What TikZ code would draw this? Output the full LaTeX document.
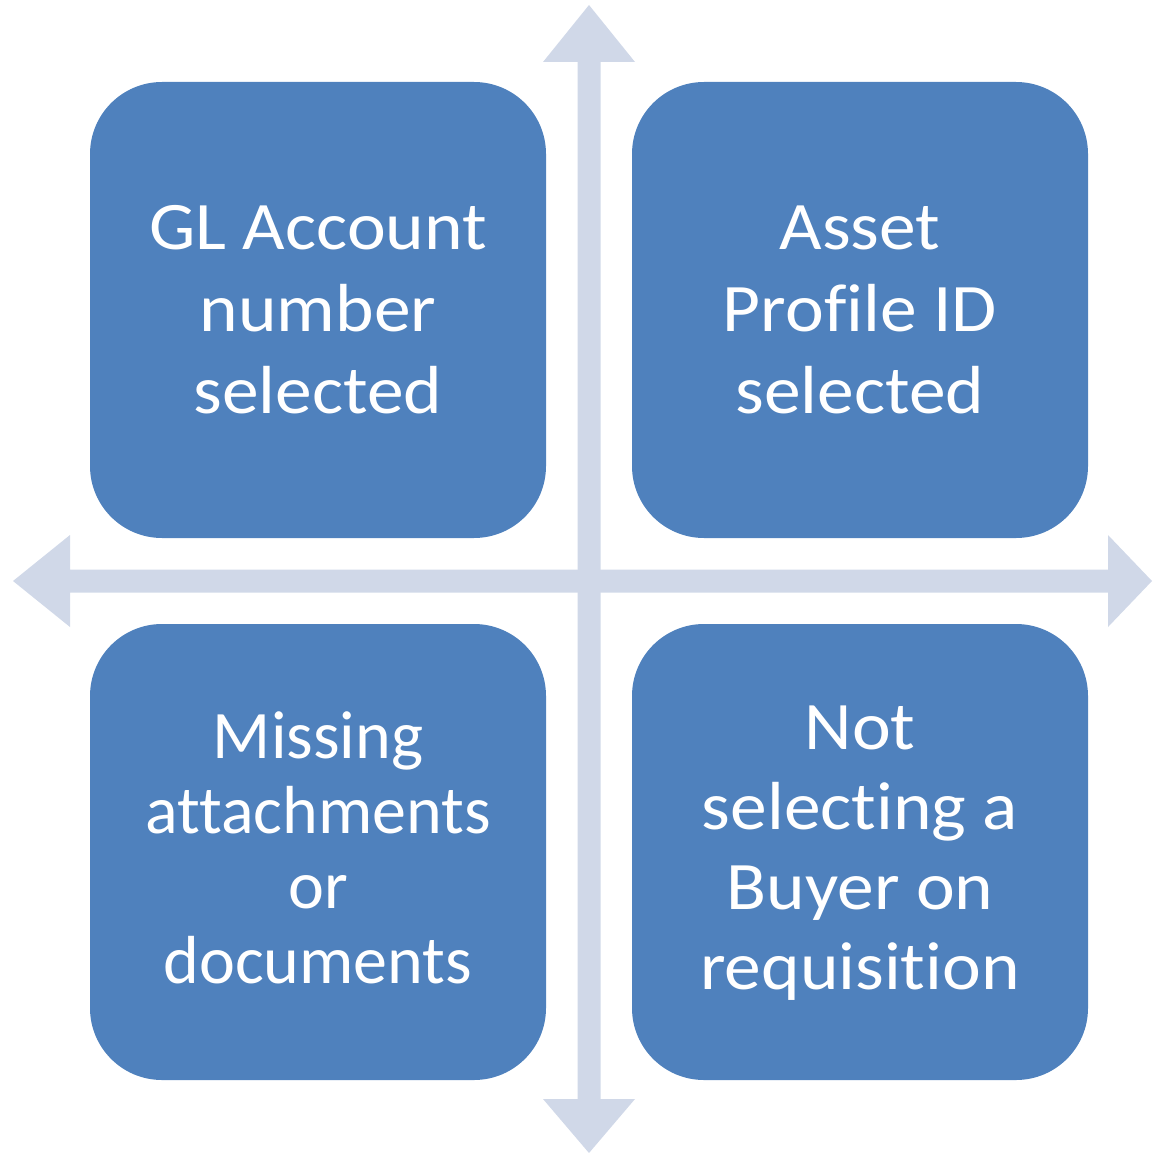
\documentclass[tikz,border=0pt]{standalone}
\usepackage{fontspec}
\setmainfont[Ligatures=NoCommon]{Carlito}
\newfontfamily\widefont[Ligatures=NoCommon,FakeStretch=1.08]{Carlito}
\definecolor{boxblue}{HTML}{4F81BD}
\definecolor{axis}{HTML}{D0D8E8}
\begin{document}
\begin{tikzpicture}[x=1pt,y=-1pt,
  quad/.style={draw=none,fill=boxblue,rounded corners=72pt,minimum width=456pt,minimum height=456pt,
    inner sep=0pt},
  quadtext/.style={inner sep=0pt,text=white,align=center,font=\widefont\fontsize{68}{82}\selectfont},
  axisfill/.style={fill=axis,draw=none}]
\useasboundingbox (0,0) rectangle (1152,1153);
% vertical double arrow
\fill[axisfill] (589,5) -- (635,62) -- (600.5,62) -- (600.5,1099) -- (635,1099) -- (589,1153)
  -- (543,1099) -- (577.5,1099) -- (577.5,62) -- (543,62) -- cycle;
% horizontal double arrow
\fill[axisfill] (13,581) -- (70,535) -- (70,569.5) -- (1108,569.5) -- (1108,535) -- (1152,581)
  -- (1108,627) -- (1108,592.5) -- (70,592.5) -- (70,627) -- cycle;
\node[quad] (gl) at (318,310) {};
\node[quad] (asset) at (860,310) {};
\node[quad] (missing) at (318,852) {};
\node[quad] (buyer) at (860,852) {};
\node[quadtext] (gltext) at (gl.center) {GL Account\\number\\selected};
\node[quadtext] (assettext) at (asset.center) {Asset\\Profile ID\\selected};
\node[quadtext,font=\rmfamily\fontsize{68}{75}\selectfont] (missingtext) at ([yshift=4pt]missing.center) {Missing\\attachments\\or\\documents};
\node[quadtext,font=\widefont\fontsize{68}{80}\selectfont] (buyertext) at ([yshift=-1pt]buyer.center) {Not\\selecting a\\Buyer on\\requisition};
\end{tikzpicture}
\end{document}
